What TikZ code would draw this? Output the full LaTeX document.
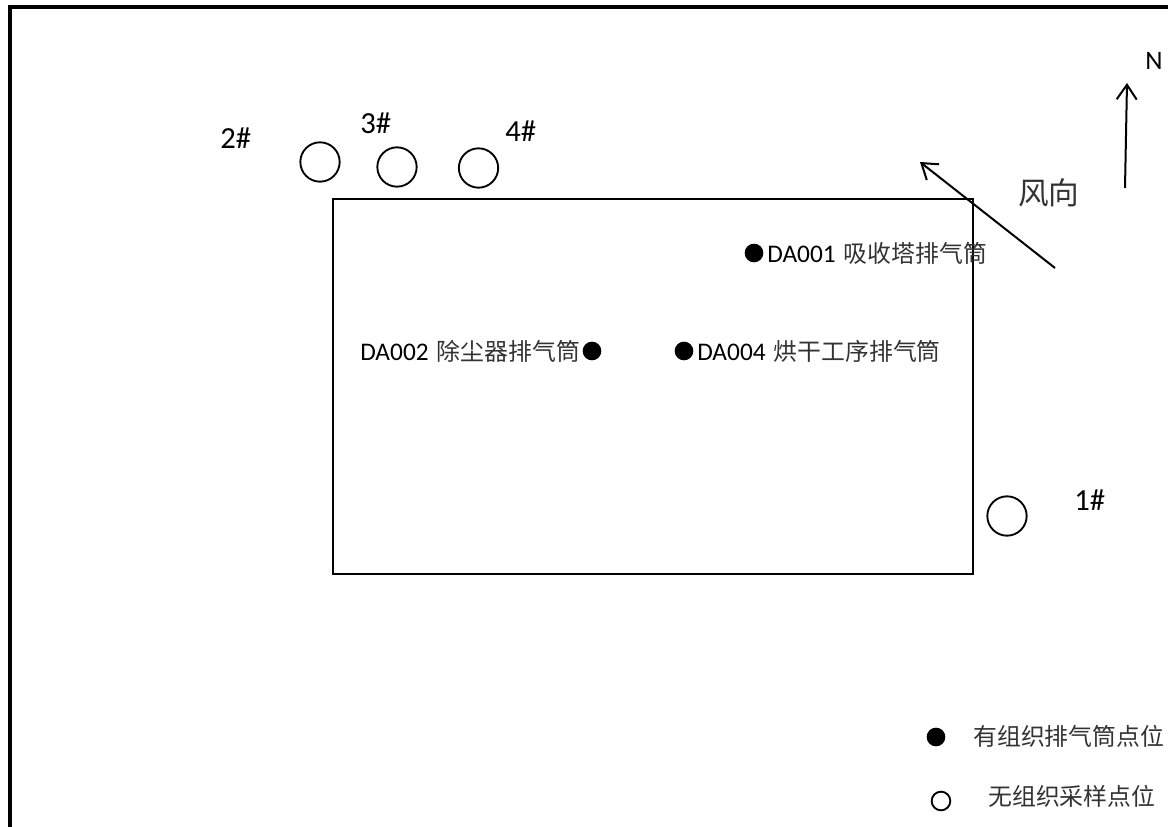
\documentclass[tikz,border=0pt]{standalone}
\usepackage{fontspec}
\setmainfont{Carlito}
\newfontfamily\cjk{Noto Sans CJK SC}
\usetikzlibrary{arrows.meta}
\newcommand{\zh}[1]{{\fontsize{17.9pt}{20pt}\selectfont\cjk\color{black!80}#1}}
\tikzset{
  sample/.style={circle,draw=black,line width=1.4pt,minimum size=29.5pt,inner sep=0pt},
  stack/.style={circle,fill=black,minimum size=14pt,inner sep=0pt},
  lbl/.style={inner sep=0pt,anchor=base west,font=\fontsize{19pt}{20pt}\selectfont},
  tag/.style={inner sep=0pt,anchor=base west,font=\fontsize{23pt}{24pt}\selectfont},
  pointer/.style={line width=1.5pt,-{Straight Barb[length=11pt,width=15pt,line width=1.5pt]}},
}
\begin{document}
\begin{tikzpicture}[x=0.75pt,y=-0.75pt]
\useasboundingbox (0,0) rectangle (1168,827);
\draw[line width=3pt] (9.5,840) -- (9.5,7) -- (1180,7);
\node[draw=black,line width=1.5pt,minimum width=480pt,minimum height=280.5pt,inner sep=0pt,anchor=north west] (site) at (331.7,198.5) {};
\node[sample] (c2) at (320,162) {};
\node[sample] (c3) at (397,167) {};
\node[sample] (c4) at (478.5,168) {};
\node[sample] (c1) at (1007,516) {};
\node[tag] (t2) at (220,149) {2\#};
\node[tag] (t3) at (360,134) {3\#};
\node[tag] (t4) at (505,142) {4\#};
\node[tag] (t1) at (1074,510) {1\#};
\node[stack] (s1) at (754,253) {};
\node[stack] (s2) at (592,351) {};
\node[stack] (s4) at (684,351) {};
\node[lbl] (l1) at (767,263) {DA001\hspace{0.32em}\zh{吸收塔排气筒}};
\node[lbl] (l2) at (360,361) {DA002\hspace{0.32em}\zh{除尘器排气筒}};
\node[lbl] (l4) at (697,361) {DA004\hspace{0.32em}\zh{烘干工序排气筒}};
\node[inner sep=0pt,anchor=base west,font=\fontsize{23pt}{26pt}\selectfont,text=black!80] (wind) at (1018,205) {\cjk 风向};
\node[inner sep=0pt,anchor=base west,font=\fontsize{20pt}{22pt}\selectfont] (north) at (1145,70) {N};
\coordinate (w1) at (1055,268);
\coordinate (w2) at (920,162);
\coordinate (n1) at (1125,188);
\coordinate (n2) at (1127,83);
\draw[pointer] (w1) -- (w2);
\draw[pointer] (n1) -- (n2);
\node[stack] (k1) at (936,737) {};
\node[circle,draw=black,line width=1.4pt,minimum size=14pt,inner sep=0pt] (k2) at (941,801) {};
\node[lbl] (k1t) at (973,745) {\zh{有组织排气筒点位}};
\node[lbl] (k2t) at (988,805) {\zh{无组织采样点位}};
\end{tikzpicture}
\end{document}
